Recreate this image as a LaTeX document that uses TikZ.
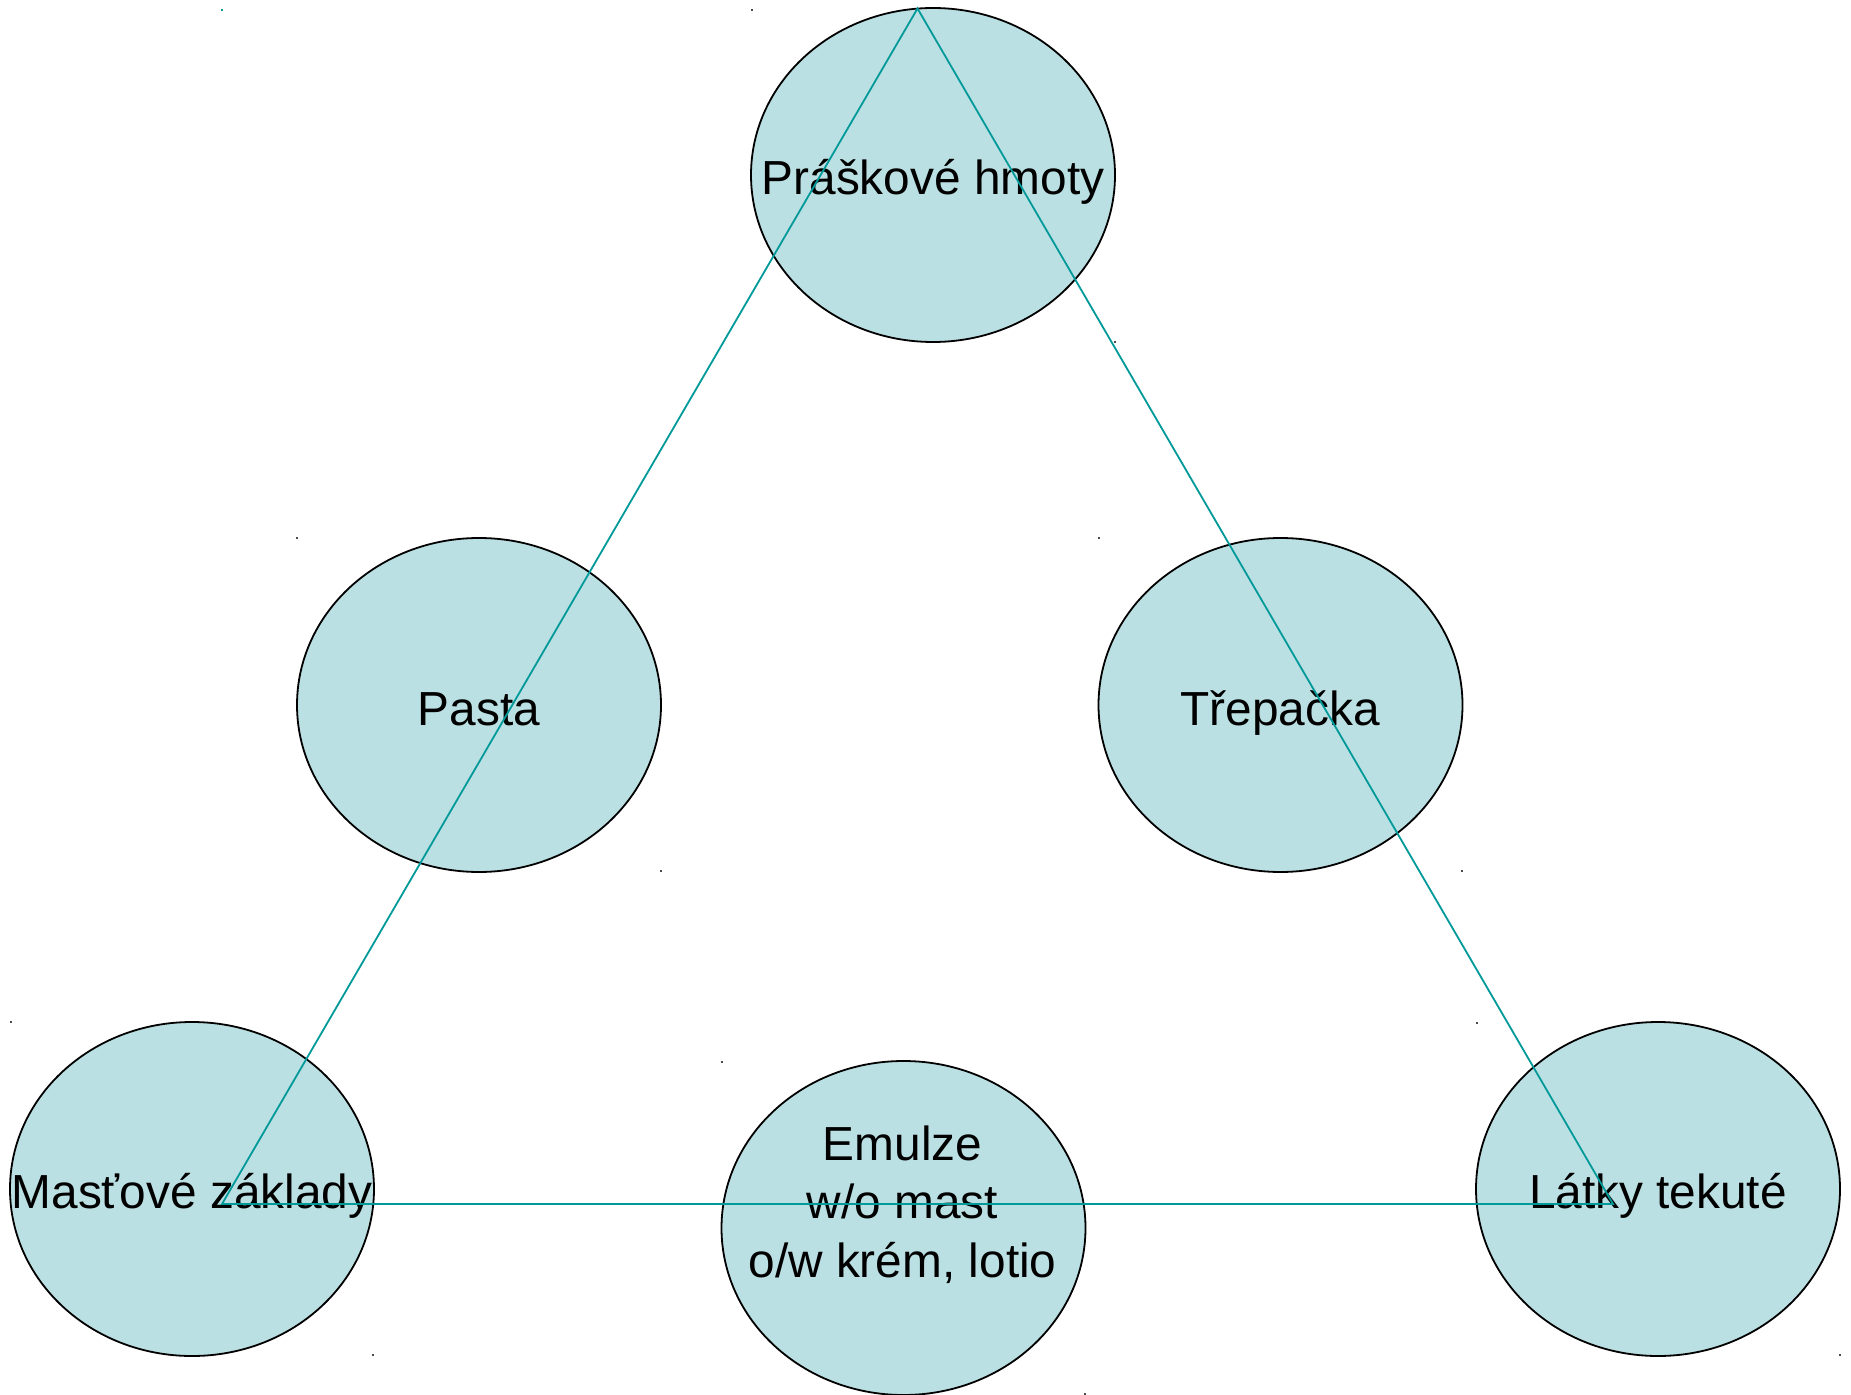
\documentclass[tikz,border=0pt]{standalone}
\usepackage{fontspec}
\setmainfont{Liberation Sans}
\usetikzlibrary{shapes.geometric}
\definecolor{ellfill}{RGB}{187,224,227}
\definecolor{tealline}{RGB}{0,153,153}
\begin{document}
\begin{tikzpicture}[x=0.5pt,y=-0.5pt,
  blob/.style={ellipse,draw=black,line width=0.9pt,fill=ellfill,inner sep=0pt,
    minimum width=182pt,minimum height=167pt},
  lbl/.style={anchor=base,inner sep=0pt,font=\fontsize{23.9pt}{29pt}\selectfont},
  tri/.style={draw=tealline,line width=0.9pt}]
\useasboundingbox (0,0) rectangle (1851,1395);
% ellipses
\node[blob] (top) at (933,175) {};
\node[blob] (pasta) at (479,705) {};
\node[blob] (trep) at (1280.5,705) {};
\node[blob] (mast) at (192,1189) {};
\node[blob] (emul) at (903.5,1228) {};
\node[blob] (latky) at (1658,1189) {};
% labels
\node[lbl] (ttop) at (933,195) {Práškové hmoty};
\node[lbl] (tpasta) at (479,725) {Pasta};
\node[lbl] (ttrep) at (1280,725) {Třepačka};
\node[lbl] (tmast) at (192,1208) {Masťové základy};
\node[lbl] (tem1) at (902.5,1160) {Emulze};
\node[lbl] (tem2) at (902.5,1218) {w/o mast};
\node[lbl] (tem3) at (902.5,1277) {o/w krém, lotio};
\node[lbl] (tlatky) at (1658,1208) {Látky tekuté};
% triangle
\coordinate (A) at (917.5,8.5);
\coordinate (B) at (222,1204);
\coordinate (C) at (1613,1204);
\draw[tri,line join=miter] (A) -- (B) -- (C) -- cycle;
% tiny corner marks
\foreach \px/\py in {752/10,1115/342,297/538,661/871,1099/538,1462/871,11/1022,373/1355,722/1062,1085/1394,1477/1023,1840/1355}
  \fill[black!70] (\px-0.8,\py-0.8) rectangle (\px+0.8,\py+0.8);
\fill[tealline] (222-0.8,10-0.8) rectangle (222+0.8,10+0.8);
\end{tikzpicture}
\end{document}
